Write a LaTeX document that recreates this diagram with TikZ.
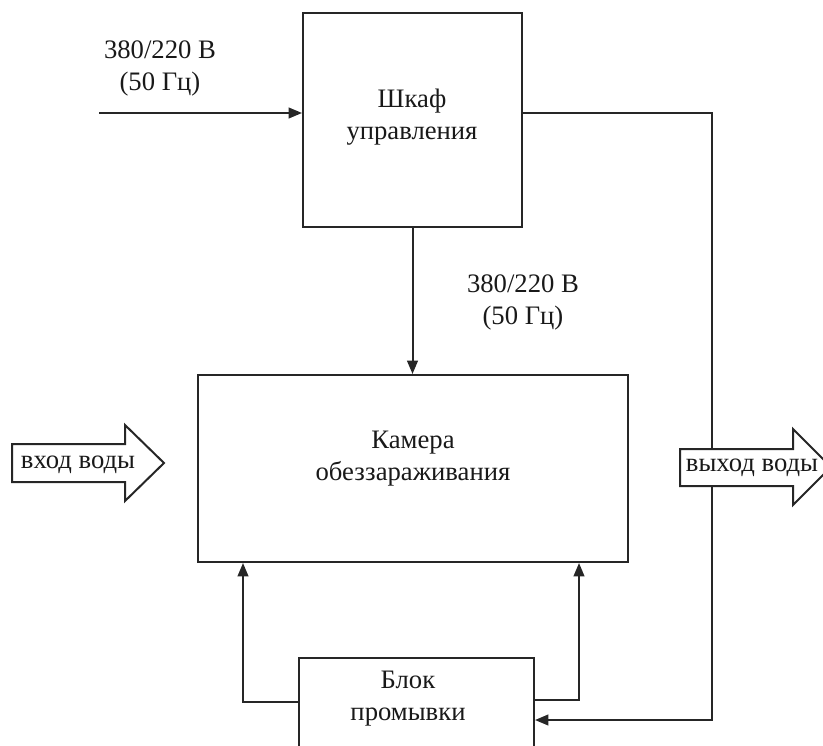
\documentclass[tikz,border=0pt]{standalone}
\usepackage{fontspec}
\setmainfont{Liberation Serif}
\usetikzlibrary{arrows.meta}
\tikzset{
  ln/.style={line width=1.5pt, draw=black!85},
  arr/.style={ln, -{Triangle[length=10pt,width=8pt]}},
  box/.style={ln, rectangle, inner sep=0pt},
  txt/.style={align=center, inner sep=0pt, font=\fontsize{20pt}{24pt}\selectfont, text=black!90},
  fat/.style={ln, fill=white, line join=miter}
}
\begin{document}
\begin{tikzpicture}[x=0.75pt,y=-0.75pt]
\useasboundingbox (0,0) rectangle (823,745);
\clip (0,0) rectangle (823,745);
% boxes
\node[box, minimum width=164.25pt, minimum height=160.5pt] (shkaf) at (412.5,120) {};
\node[txt] (shkaf-t) at (412,117) {Шкаф\\управления};
\node[box, minimum width=322.5pt, minimum height=140.25pt] (kamera) at (413,468.5) {};
\node[txt] (kamera-t) at (413,459) {Камера\\обеззараживания};
\node[box, minimum width=176.25pt, minimum height=99pt] (blok) at (416.5,724) {};
\node[txt] (blok-t) at (408,699) {Блок\\промывки};
% labels
\node[txt] (lab1) at (160,68) {380/220 В\\(50 Гц)};
\node[txt] (lab2) at (523,302) {380/220 В\\(50 Гц)};
% coordinates
\coordinate (in) at (99,113);
\coordinate (rt) at (712,113);
\coordinate (rb) at (712,720);
\coordinate (lb) at (243,702);
\coordinate (rr) at (579,700);
% connectors
\draw[arr] (in) -- (in -| shkaf.west);
\draw[arr] (shkaf.south) -- (shkaf.south |- kamera.north);
\draw[arr] (rt -| shkaf.east) -- (rt) -- (rb) -- (rb -| blok.east);
\draw[arr] (lb -| blok.west) -- (lb) -- (lb |- kamera.south);
\draw[arr] (rr -| blok.east) -- (rr) -- (rr |- kamera.south);
% block arrows
\draw[fat] (12,444) -- (125,444) -- (125,425) -- (164,463) -- (125,501) -- (125,482) -- (12,482) -- cycle;
\node[txt] (vhod) at (78,465) {вход воды};
\draw[fat] (680,449) -- (793,449) -- (793,429) -- (831,467) -- (793,505) -- (793,486) -- (680,486) -- cycle;
\node[txt] (vyhod) at (752,468) {выход воды};
\end{tikzpicture}
\end{document}
